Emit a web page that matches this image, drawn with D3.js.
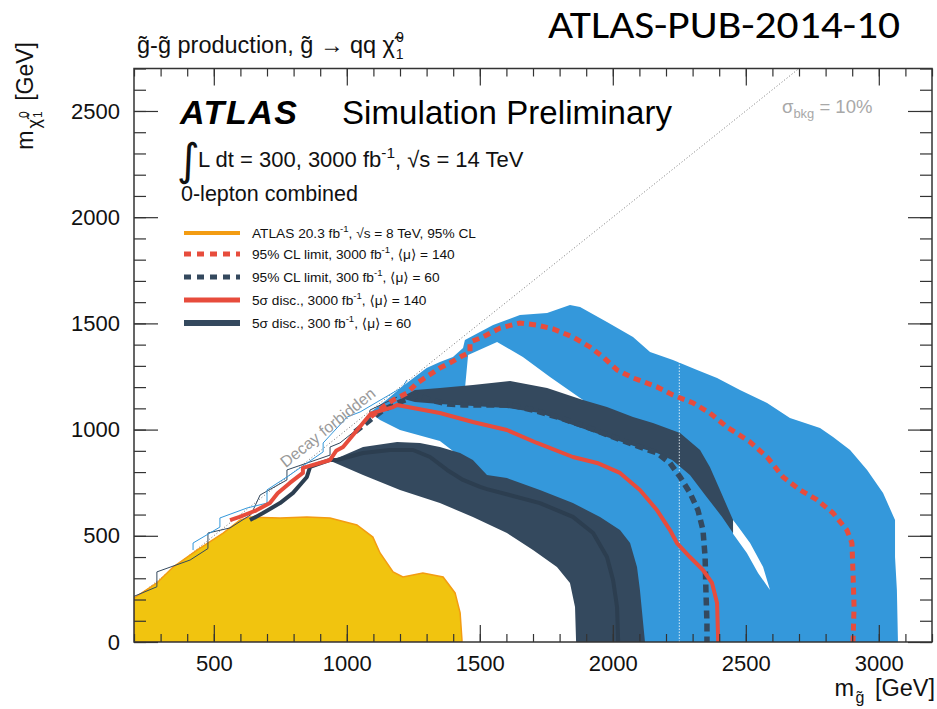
<!DOCTYPE html>
<html><head><meta charset="utf-8">
<script src="https://cdn.jsdelivr.net/npm/d3@7"></script>
<style>
html,body{margin:0;padding:0;background:#fff;}
svg{display:block;font-family:"Liberation Sans",Arial,Helvetica,"DejaVu Sans",sans-serif;}
</style></head><body>
<svg id="chart" width="937" height="709"></svg>
<script>
// ---------------- data (m_gluino, m_neutralino) in GeV ----------------
const xTickLabels = [500, 1000, 1500, 2000, 2500, 3000];
const yTickLabels = [0, 500, 1000, 1500, 2000, 2500];

const atlas8TeV = [[200,0],[200,207],[286,278],[347,353],[437,433],[535,513],[598,574],[636,588],[749,584],[850,588],[937,584],[1038,551],[1098,494],[1125,419],[1174,330],[1211,306],[1286,325],[1362,306],[1407,231],[1426,137],[1433,9],[1433,0]];

const band3000 = [[1087,1080],[1150,1140],[1211,1205],[1300,1290],[1350,1318],[1399,1342],[1437,1384],[1444,1422],[1550,1492],[1651,1540],[1753,1549],[1839,1587],[1877,1577],[1978,1507],[2076,1436],[2140,1365],[2226,1328],[2317,1281],[2392,1243],[2478,1186],[2580,1125],[2666,1055],[2779,1008],[2828,965],[2892,904],[2956,810],[3016,702],[3061,574],[3061,400],[3068,245],[3072,0],[2100,0],[2095,89],[2083,245],[2072,353],[2045,450],[2005,515],[1935,575],[1835,640],[1715,700],[1600,755],[1527,777],[1350,946],[1200,998],[1125,1045],[1087,1080]];

const gap3000Upper = [[1456,1351],[1565,1412],[1662,1342],[1764,1248],[1888,1139],[1888,1120],[1753,1180],[1614,1212],[1474,1195],[1444,1190]];
const gap3000Lower = [[2452,574],[2470,545],[2516,466],[2565,353],[2591,245],[2583,259],[2546,325],[2504,419],[2452,510]];

const band300Limit = [[1200,1149],[1256,1186],[1350,1196],[1474,1210],[1614,1229],[1753,1196],[1888,1139],[1978,1106],[2076,1059],[2151,1031],[2253,984],[2328,904],[2365,824],[2403,716],[2452,574],[2452,513],[2411,589],[2347,692],[2290,786],[2223,857],[2166,890],[2102,913],[1978,965],[1850,1022],[1726,1078],[1602,1102],[1350,1120],[1256,1130]];

const band300Disc = [[948,857],[1061,918],[1189,942],[1275,937],[1350,918],[1426,890],[1474,857],[1527,786],[1602,772],[1726,716],[1850,654],[1952,589],[2027,527],[2065,466],[2091,353],[2102,245],[2114,89],[2121,0],[1862,0],[1858,165],[1839,278],[1790,353],[1700,433],[1602,513],[1474,589],[1350,654],[1200,716],[1061,786],[948,847]];

const limit3000 = [[1090,1060],[1140,1110],[1174,1139],[1226,1172],[1264,1219],[1350,1290],[1388,1314],[1426,1342],[1463,1365],[1463,1412],[1512,1436],[1576,1478],[1651,1502],[1715,1492],[1775,1474],[1850,1436],[1914,1389],[1963,1342],[2016,1281],[2076,1243],[2166,1201],[2226,1163],[2302,1125],[2365,1078],[2429,1012],[2516,942],[2580,871],[2640,777],[2704,716],[2768,669],[2828,607],[2880,527],[2899,466],[2903,325],[2907,165],[2903,0]];

const disc3000 = [[561,574],[600,590],[660,620],[711,654],[740,700],[786,749],[835,796],[835,820],[937,857],[960,900],[986,918],[1061,1031],[1090,1075],[1174,1106],[1189,1116],[1350,1078],[1474,1036],[1602,998],[1715,937],[1850,871],[1941,843],[2027,796],[2102,716],[2166,621],[2215,527],[2241,466],[2290,400],[2339,339],[2373,278],[2392,184],[2396,9],[2396,0]];

const limit300 = [[1031,989],[1087,1045],[1136,1092],[1200,1130],[1264,1160],[1313,1140],[1380,1120],[1437,1116],[1512,1116],[1614,1116],[1700,1092],[1802,1055],[1903,1012],[2001,965],[2102,918],[2166,890],[2215,843],[2253,777],[2290,702],[2320,621],[2339,527],[2347,400],[2350,245],[2354,89],[2354,0]];

const disc300 = [[636,574],[685,607],[749,654],[798,702],[850,777],[862,824],[937,857],[963,857],[1061,890],[1162,904],[1249,904],[1313,871],[1377,810],[1437,763],[1501,730],[1527,720],[1726,654],[1850,589],[1926,513],[1978,400],[2001,292],[2016,165],[2020,9],[2020,0]];

const stairNavy = [[200,215],[286,260],[286,330],[411,386],[478,440],[478,513],[561,537],[640,600],[674,692],[775,763],[775,810],[937,880],[937,918],[974,937],[1087,1050],[1087,1092],[1189,1153]];
const stairBlue = [[422,433],[422,466],[523,541],[523,584],[625,631],[700,654],[700,716],[775,777],[911,895],[911,937],[1001,1059],[1050,1083],[1211,1201],[1226,1234]];

const diagonal = [[200,200],[2700,2700]];
const crossCheck = [[2250,0],[2250,1320]];

const legendLabels = [
  "ATLAS 20.3 fb^{-1}, √s = 8 TeV, 95% CL",
  "95% CL limit, 3000 fb^{-1}, ⟨μ⟩ = 140",
  "95% CL limit, 300 fb^{-1}, ⟨μ⟩ = 60",
  "5σ disc., 3000 fb^{-1}, ⟨μ⟩ = 140",
  "5σ disc., 300 fb^{-1}, ⟨μ⟩ = 60"
];

// ---------------- drawing ----------------
const C = {yellow:"#F1C40F", orange:"#F39C12", blue:"#3498DB", navy:"#34495E", navyDark:"#2C3E50", red:"#E74C3C"};
const svg = d3.select("#chart");
const L = 134, R = 932, T = 68.5, B = 642;
const x = d3.scaleLinear().domain([200, 3200]).range([L, R]);
const y = d3.scaleLinear().domain([0, 2700]).range([B, T]);
const line = d3.line().x(d => x(d[0])).y(d => y(d[1]));

svg.append("defs").append("clipPath").attr("id","clip")
  .append("rect").attr("x",L).attr("y",T).attr("width",R-L).attr("height",B-T);
const g = svg.append("g").attr("clip-path","url(#clip)");

g.append("path").attr("d", line(diagonal)).attr("fill","none")
  .attr("stroke","#777").attr("stroke-width",1).attr("stroke-dasharray","1,2.2");

g.append("path").attr("d", line(band3000)+"Z").attr("fill",C.blue);
g.append("path").attr("d", line(gap3000Upper)+"Z").attr("fill","#fff");
g.append("path").attr("d", line(gap3000Lower)+"Z").attr("fill","#fff");
g.append("path").attr("d", line(band300Limit)+"Z").attr("fill",C.navy);
g.append("path").attr("d", line(band300Disc)+"Z").attr("fill",C.navy);

g.append("path").attr("d", line(atlas8TeV)+"Z").attr("fill",C.yellow)
  .attr("stroke",C.orange).attr("stroke-width",1.5);

g.append("path").attr("d", line(stairNavy)).attr("fill","none").attr("stroke",C.navy).attr("stroke-width",1);
g.append("path").attr("d", line(stairBlue)).attr("fill","none").attr("stroke",C.blue).attr("stroke-width",1);

g.append("path").attr("d", line(crossCheck)).attr("fill","none")
  .attr("stroke","rgba(255,255,255,0.8)").attr("stroke-width",1).attr("stroke-dasharray","1.5,1.5");

g.append("path").attr("d", line(disc300)).attr("fill","none").attr("stroke",C.navyDark).attr("stroke-width",4).attr("stroke-linejoin","round");
g.append("path").attr("d", line(limit300)).attr("fill","none").attr("stroke",C.navy).attr("stroke-width",5.5).attr("stroke-dasharray","8,5");
g.append("path").attr("d", line(disc3000)).attr("fill","none").attr("stroke",C.red).attr("stroke-width",4).attr("stroke-linejoin","round");
g.append("path").attr("d", line(limit3000)).attr("fill","none").attr("stroke",C.red).attr("stroke-width",5).attr("stroke-dasharray","7,5");

// rich text helper: ^{..} superscript, _{..} subscript (stacked if sub follows sup)
function rich(sel, str, fs) {
  const parts = str.split(/(\^\{[^}]*\}|_\{[^}]*\})/).filter(p => p !== "");
  let cur = 0, prevSup = null;
  parts.forEach(p => {
    let t, txt, target, size = fs;
    if (p.startsWith("^{")) { txt = p.slice(2,-1); target = -0.42*fs; size = 0.7*fs; }
    else if (p.startsWith("_{")) { txt = p.slice(2,-1); target = 0.28*fs; size = 0.7*fs; }
    else { txt = p; target = 0; }
    t = sel.append("tspan").text(txt).attr("font-size", size).attr("dy", target - cur);
    if (p.startsWith("_{") && prevSup) t.attr("dx", -prevSup.length*0.556*0.7*fs);
    prevSup = p.startsWith("^{") ? txt : null;
    cur = target;
  });
}

// axes
const axG = svg.append("g");
const fmt = d3.format("d");
function styleAxis(a){ a.select(".domain").remove(); a.selectAll("line").attr("stroke","#333").attr("stroke-width",1.2);
  a.selectAll("text").attr("font-size",22).attr("fill","#111").attr("font-family",'"Liberation Sans",Arial,sans-serif'); }
const minorX = d3.range(200, 3201, 100), minorY = d3.range(0, 2701, 100);
styleAxis(axG.append("g").attr("transform",`translate(0,${B})`).call(d3.axisBottom(x).tickValues(xTickLabels).tickSize(-17).tickPadding(13).tickFormat(fmt)));
styleAxis(axG.append("g").attr("transform",`translate(0,${B})`).call(d3.axisBottom(x).tickValues(minorX).tickSize(-8).tickFormat("")));
styleAxis(axG.append("g").attr("transform",`translate(0,${T})`).call(d3.axisTop(x).tickValues(xTickLabels).tickSize(-17).tickFormat("")));
styleAxis(axG.append("g").attr("transform",`translate(0,${T})`).call(d3.axisTop(x).tickValues(minorX).tickSize(-8).tickFormat("")));
styleAxis(axG.append("g").attr("transform",`translate(${L},0)`).call(d3.axisLeft(y).tickValues(yTickLabels).tickSize(-24).tickPadding(14).tickFormat(fmt)));
styleAxis(axG.append("g").attr("transform",`translate(${L},0)`).call(d3.axisLeft(y).tickValues(minorY).tickSize(-12).tickFormat("")));
styleAxis(axG.append("g").attr("transform",`translate(${R},0)`).call(d3.axisRight(y).tickValues(yTickLabels).tickSize(-24).tickFormat("")));
styleAxis(axG.append("g").attr("transform",`translate(${R},0)`).call(d3.axisRight(y).tickValues(minorY).tickSize(-12).tickFormat("")));
svg.append("rect").attr("x",L).attr("y",T).attr("width",R-L).attr("height",B-T)
  .attr("fill","none").attr("stroke","#333").attr("stroke-width",1.5);

// axis titles
const yl = svg.append("text").attr("transform","translate(33,42) rotate(-90)").attr("text-anchor","end")
  .attr("font-size",23).attr("fill","#111");
yl.append("tspan").text("m");
yl.append("tspan").text("χ\u0303").attr("font-size",18).attr("dx",2).attr("dy",7);
yl.append("tspan").text("0").attr("font-size",12).attr("dx",1).attr("dy",-12);
yl.append("tspan").text("1").attr("font-size",12).attr("dx",-6.5).attr("dy",14);
yl.append("tspan").text(" [GeV]").attr("dx",4).attr("dy",-9);

const xl = svg.append("text").attr("x",935).attr("y",696).attr("text-anchor","end").attr("font-size",23.5).attr("fill","#111");
xl.append("tspan").text("m");
xl.append("tspan").text("g\u0303").attr("font-size",16).attr("dx",1.5).attr("dy",7);
xl.append("tspan").text(" [GeV]").attr("dx",4).attr("dy",-7);

// header texts
svg.append("text").attr("x",548).attr("y",38).attr("font-size",38).attr("fill","#000")
  .attr("font-family","Carlito, Calibri, Lato, 'Open Sans', 'Liberation Sans', sans-serif")
  .attr("textLength",352).attr("lengthAdjust","spacingAndGlyphs").text("ATLAS-PUB-2014-10");

const tt = svg.append("text").attr("x",137).attr("y",53).attr("font-size",23.5).attr("fill","#111");
tt.append("tspan").text("g\u0303-g\u0303 production, g\u0303 → qq χ\u0303");
tt.append("tspan").text("0").attr("font-size",14).attr("dx",1).attr("dy",-11);
tt.append("tspan").text("1").attr("font-size",14).attr("dx",-8).attr("dy",17);

svg.append("text").attr("x",180).attr("y",124).attr("font-size",34).attr("font-weight","bold")
  .attr("font-style","italic").attr("fill","#000").attr("textLength",117).text("ATLAS");
svg.append("text").attr("x",342).attr("y",124).attr("font-size",33).attr("fill","#000")
  .attr("textLength",330).text("Simulation Preliminary");

svg.append("text").attr("x",177).attr("y",175).attr("font-size",44).attr("fill","#111")
  .attr("font-family","'DejaVu Sans',sans-serif").text("∫");
const lum = svg.append("text").attr("x",198).attr("y",167).attr("font-size",22).attr("fill","#111");
rich(lum, "L dt = 300, 3000 fb^{-1}, √s = 14 TeV", 22);
svg.append("text").attr("x",181).attr("y",201).attr("font-size",21.5).attr("fill","#111").text("0-lepton combined");

svg.append("text").attr("x",782).attr("y",113).attr("font-size",18.5).attr("fill","#a8a8a8")
  .call(s => rich(s, "σ_{bkg} = 10%", 18.5));

// decay forbidden label along the diagonal
const ang = Math.atan2(y(1000) - y(0), x(1000) - x(0)) * 180 / Math.PI;
svg.append("text").attr("transform",`translate(${x(960)},${y(960)}) rotate(${ang})`)
  .attr("text-anchor","middle").attr("dy",-8).attr("font-size",16).attr("fill","#999").text("Decay forbidden");

// legend
const legStyle = [
  {c:C.orange, w:4, dash:null},
  {c:C.red, w:5, dash:"7,6"},
  {c:C.navy, w:5, dash:"7,6"},
  {c:C.red, w:5, dash:null},
  {c:C.navy, w:6, dash:null}
];
const legY = [233, 254, 277, 300, 323];
legendLabels.forEach((lab, i) => {
  const st = legStyle[i];
  svg.append("line").attr("x1",184).attr("x2",240).attr("y1",legY[i]).attr("y2",legY[i])
    .attr("stroke",st.c).attr("stroke-width",st.w).attr("stroke-dasharray",st.dash);
  const t = svg.append("text").attr("x",252).attr("y",legY[i]+5).attr("font-size",13.7).attr("fill","#111");
  rich(t, lab, 13.7);
});
</script></body></html>
